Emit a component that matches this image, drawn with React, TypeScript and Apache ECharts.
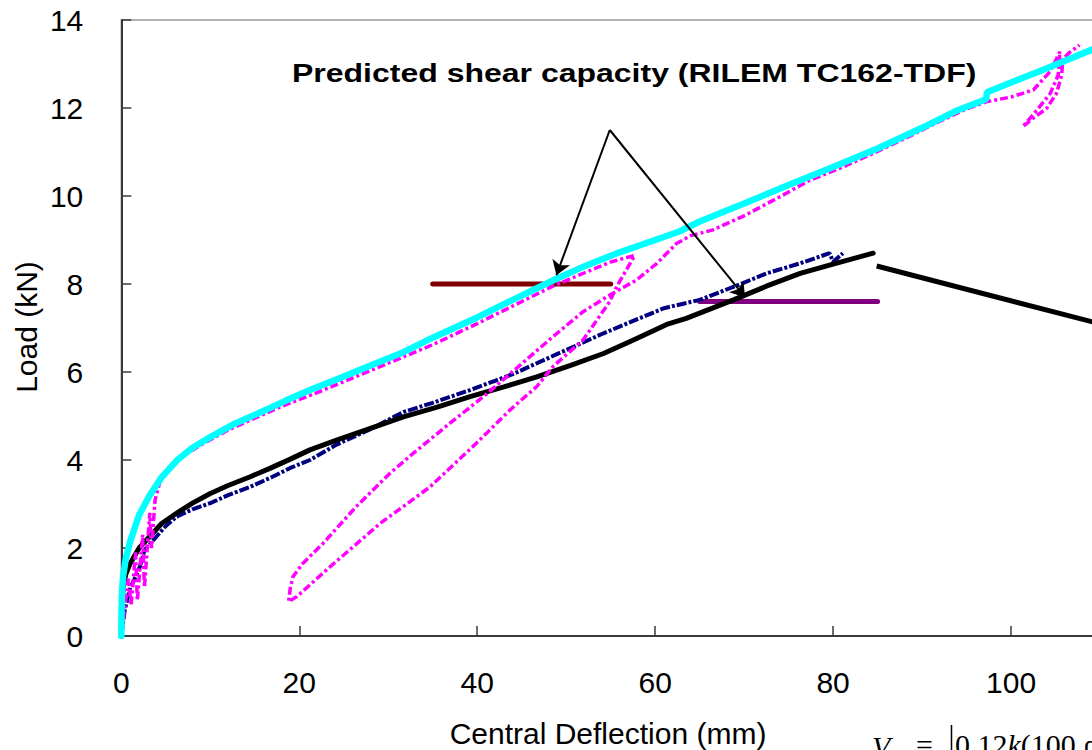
import React, { useEffect, useRef } from "react";
import * as echarts from "echarts";

// ---- data (Central Deflection mm, Load kN) ----
const xAxisMin = 0;
const xAxisMax = 120;
const xAxisStep = 20;
const yAxisMin = 0;
const yAxisMax = 14;
const yAxisStep = 2;

const cyanCurve: number[][] = [
  [0, 0], [0.02, 0.5], [0.08, 1.0], [0.2, 1.35], [0.5, 1.75], [1.0, 2.15], [2.0, 2.75],
  [3.2, 3.2], [4.5, 3.6], [6.3, 4.0], [8, 4.28], [10, 4.52], [12.5, 4.8], [15.6, 5.08],
  [18.5, 5.35], [21.2, 5.59], [25, 5.9], [28, 6.15], [31.7, 6.45], [35, 6.78], [40, 7.24],
  [44, 7.64], [48.5, 8.08], [52, 8.4], [56, 8.72], [60, 9.0], [62.8, 9.2], [65, 9.42],
  [70, 9.83], [75, 10.25], [80, 10.66], [85, 11.08], [90, 11.55], [94, 11.95], [97.2, 12.2],
  [97.3, 12.36], [100, 12.58], [103, 12.82], [106, 13.07], [109.5, 13.36], [112, 13.56],
];

const magentaCurve: number[][] = [
  [0, 0], [0.3, 0.5], [0.8, 1.3], [1.1, 0.7], [1.6, 1.9], [1.8, 0.8], [2.4, 2.3], [2.6, 1.1],
  [3.2, 2.8], [3.4, 2.0], [3.8, 3.1], [4.4, 3.55], [5.5, 3.85], [7, 4.1], [9, 4.35], [12, 4.68],
  [15, 4.95], [18, 5.22], [21, 5.45], [25, 5.78], [30, 6.2], [35, 6.62], [40, 7.1], [44, 7.5],
  [48.5, 7.95], [52, 8.25], [55, 8.5], [57.7, 8.65],
  [55.7, 7.95], [54.9, 7.6], [51.9, 6.73], [48.5, 6.12], [46.7, 5.67], [43.7, 5.14], [39.9, 4.38],
  [34.7, 3.39], [29.1, 2.56], [23.5, 1.58], [19.7, 0.89], [18.8, 0.78],
  [19.0, 1.1], [19.3, 1.35], [20.4, 1.65], [22.7, 2.11], [26.4, 2.94], [30.2, 3.7], [32.8, 4.15],
  [36.9, 4.83], [40.7, 5.44], [44.5, 6.1], [48.5, 6.8], [51.9, 7.37], [54.9, 7.75], [57.9, 8.09],
  [60.2, 8.47], [62.4, 8.92], [64, 9.1], [66.5, 9.23], [70, 9.55], [74, 9.98], [77.4, 10.36],
  [81, 10.65], [84.5, 10.97], [88, 11.3], [92, 11.7], [95, 11.98], [97.2, 12.14], [100, 12.25],
  [102.5, 12.41], [104.4, 12.83], [105.5, 13.28], [105.3, 12.75], [104.4, 12.33], [102.9, 11.95],
  [101.3, 11.57], [102.5, 11.77], [104, 11.99], [105.1, 12.33], [105.7, 12.75], [105.8, 13.1],
  [106.5, 13.25], [107.7, 13.43],
];

const navyCurve: number[][] = [
  [0, 0], [0.2, 0.3], [0.4, 0.6], [1.0, 1.1], [1.5, 1.3], [2.1, 1.58], [2.6, 1.95], [3.6, 2.18],
  [5, 2.5], [6.2, 2.71], [8, 2.88], [10, 3.02], [12, 3.2], [14.5, 3.39], [17, 3.62], [19, 3.82],
  [21.2, 4.0], [24.2, 4.35], [28, 4.7], [31.7, 5.09], [35, 5.3], [39.2, 5.59], [42, 5.8],
  [44, 5.95], [46.7, 6.2], [50, 6.5], [54.2, 6.88], [58, 7.2], [61, 7.45], [65, 7.64], [69, 7.95],
  [72.5, 8.24], [76.3, 8.47], [79.6, 8.7], [80, 8.5], [81.1, 8.7],
];

const blackCurve: number[][] = [
  [0, 0], [0.1, 0.6], [0.2, 1.12], [0.5, 1.4], [1.0, 1.65], [2, 2.0], [3.2, 2.26], [4.5, 2.55],
  [6.2, 2.79], [8, 3.02], [10, 3.24], [12, 3.42], [14.5, 3.62], [16.7, 3.81], [19, 4.02],
  [21.2, 4.23], [24.2, 4.45], [28, 4.72], [31.7, 4.98], [35.5, 5.2], [39.2, 5.44], [43, 5.66],
  [46.7, 5.89], [50.5, 6.15], [54.2, 6.42], [57.5, 6.72], [61.3, 7.08], [63.5, 7.22], [68.8, 7.64],
  [72.5, 7.95], [76.3, 8.24], [80, 8.45], [84.5, 8.7],
];

const capacityLineA: number[][] = [[35, 8.0], [55, 8.0]];
const capacityLineB: number[][] = [[65, 7.6], [85, 7.6]];
const arrowStart: number[] = [54.9, 11.5];
const arrowEnds: number[][] = [[48.9, 8.2], [70.1, 7.7]];
const leaderLine: number[][] = [[84.9, 8.41], [112, 6.99]];

const titleText = "Predicted shear capacity (RILEM TC162-TDF)";
const xAxisName = "Central Deflection (mm)";
const yAxisName = "Load (kN)";

const FONT = "'Liberation Sans', Arial, sans-serif";

export default function App() {
  const ref = useRef<HTMLDivElement>(null);
  useEffect(() => {
    if (!ref.current) return;
    const chart = echarts.init(ref.current, null, { renderer: "svg" });
    const option: any = {
      animation: false,
      backgroundColor: "#ffffff",
      grid: {
        left: 121.3,
        top: 20,
        bottom: 114,
        right: -97,
        show: true,
        borderColor: "#9a9a9a",
        borderWidth: 1.5,
        containLabel: false,
        outerBoundsMode: "none",
      },
      xAxis: {
        type: "value",
        min: xAxisMin,
        max: xAxisMax,
        interval: xAxisStep,
        splitLine: { show: false },
        axisLine: { show: true, onZero: false, lineStyle: { color: "#3a3a3a", width: 2 } },
        axisTick: { show: true, inside: true, length: 10, lineStyle: { color: "#3a3a3a", width: 1.5 } },
        axisLabel: { color: "#000", fontSize: 30, fontFamily: FONT, margin: 31, showMaxLabel: false },
      },
      yAxis: {
        type: "value",
        min: yAxisMin,
        max: yAxisMax,
        interval: yAxisStep,
        splitLine: { show: false },
        axisLine: { show: true, onZero: false, lineStyle: { color: "#3a3a3a", width: 2 } },
        axisTick: { show: true, inside: true, length: 10, lineStyle: { color: "#3a3a3a", width: 1.5 } },
        axisLabel: { color: "#000", fontSize: 30, fontFamily: FONT, margin: 38 },
      },
      series: [
        {
          type: "line", data: capacityLineA, showSymbol: false, symbol: "none", z: 2,
          lineStyle: { color: "#800000", width: 5, cap: "round" },
        },
        {
          type: "line", data: capacityLineB, showSymbol: false, symbol: "none", z: 2,
          lineStyle: { color: "#800080", width: 5, cap: "round" },
        },
        {
          type: "line", data: navyCurve, showSymbol: false, symbol: "none", z: 3,
          lineStyle: { color: "#000080", width: 4, type: [10, 2, 3, 2] },
        },
        {
          type: "line", data: blackCurve, showSymbol: false, symbol: "none", z: 4,
          lineStyle: { color: "#000000", width: 5, cap: "round" },
        },
        {
          type: "line", data: magentaCurve, showSymbol: false, symbol: "none", z: 5,
          lineStyle: { color: "#ff00ff", width: 3.5, type: [8, 3, 3, 3] },
        },
        {
          type: "line", data: cyanCurve, showSymbol: false, symbol: "none", z: 6,
          lineStyle: { color: "#00ffff", width: 6.5, cap: "round" },
        },
        {
          type: "line", data: leaderLine, showSymbol: false, symbol: "none", z: 7,
          lineStyle: { color: "#000000", width: 5 },
        },
        {
          type: "lines",
          coordinateSystem: "cartesian2d",
          z: 8,
          symbol: ["none", "arrow"],
          symbolSize: 14,
          lineStyle: { color: "#000000", width: 2, opacity: 1 },
          data: arrowEnds.map((end) => ({ coords: [arrowStart, end] })),
        },
      ],
      graphic: [
        {
          type: "text",
          x: 292,
          y: 73,
          scaleX: 1.28,
          z: 100,
          style: {
            text: titleText,
            fill: "#000",
            fontSize: 25,
            fontWeight: "bold",
            fontFamily: FONT,
            align: "left",
            verticalAlign: "middle",
            textAlign: "left",
            textVerticalAlign: "middle",
          },
        },
        {
          type: "text",
          x: 608,
          y: 733,
          z: 100,
          style: {
            text: xAxisName,
            fill: "#000",
            fontSize: 30,
            fontFamily: FONT,
            align: "center",
            verticalAlign: "middle",
            textAlign: "center",
            textVerticalAlign: "middle",
          },
        },
        {
          type: "text",
          x: 26,
          y: 327,
          rotation: Math.PI / 2,
          z: 100,
          style: {
            text: yAxisName,
            fill: "#000",
            fontSize: 30,
            fontFamily: FONT,
            align: "center",
            verticalAlign: "middle",
            textAlign: "center",
            textVerticalAlign: "middle",
          },
        },
        {
          type: "text",
          x: 872,
          y: 731,
          z: 100,
          style: {
            text: "V",
            fill: "#000",
            fontSize: 30,
            fontStyle: "italic",
            fontFamily: "'Liberation Serif', serif",
            align: "left",
            verticalAlign: "top",
            textAlign: "left",
            textVerticalAlign: "top",
          },
        },
        {
          type: "text",
          x: 916,
          y: 729,
          z: 100,
          style: {
            text: "=",
            fill: "#000",
            fontSize: 30,
            fontFamily: "'Liberation Serif', serif",
            align: "left",
            verticalAlign: "top",
            textAlign: "left",
            textVerticalAlign: "top",
          },
        },
        {
          type: "line",
          z: 100,
          shape: { x1: 951.5, y1: 725, x2: 951.5, y2: 752 },
          style: { stroke: "#000", lineWidth: 1.5 },
        },
        {
          type: "text",
          x: 955,
          y: 729,
          z: 100,
          style: {
            text: "{n|0.12}{i|k}{n|(100 ρ}",
            fill: "#000",
            fontSize: 30,
            fontFamily: "'Liberation Serif', serif",
            align: "left",
            verticalAlign: "top",
            textAlign: "left",
            textVerticalAlign: "top",
            rich: {
              n: { fontSize: 30, fontFamily: "'Liberation Serif', serif", fill: "#000" },
              i: { fontSize: 30, fontStyle: "italic", fontFamily: "'Liberation Serif', serif", fill: "#000" },
            },
          },
        },
      ],
    };
    chart.setOption(option);
    return () => chart.dispose();
  }, []);

  return (
    <div
      ref={ref}
      style={{ position: "fixed", left: 0, top: 0, width: 1092, height: 750, background: "#fff" }}
    />
  );
}
